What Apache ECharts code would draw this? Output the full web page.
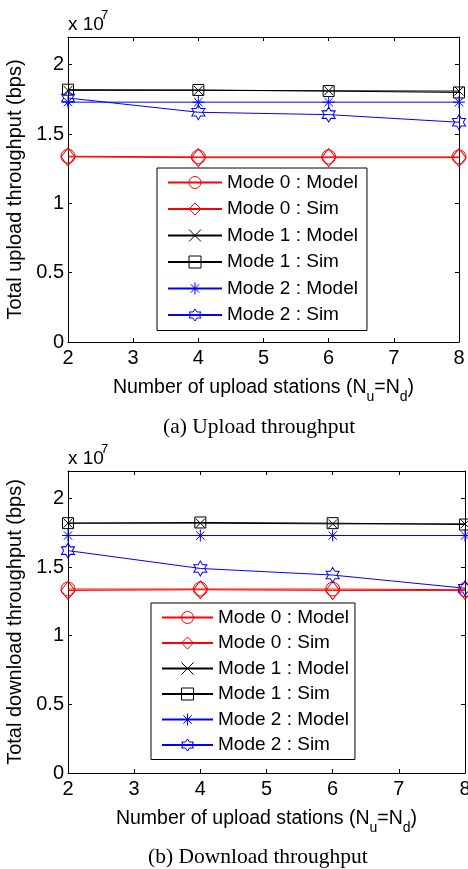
<!DOCTYPE html>
<html>
<head>
<meta charset="utf-8">
<title>Upload / download throughput</title>
<script src="https://cdn.jsdelivr.net/npm/echarts@6/dist/echarts.min.js"></script>
<style>
    html, body { margin: 0; padding: 0; background: #fff; }
    #chart { width: 468px; height: 869px; }
</style>
</head>
<body>
<div id="chart"></div>
<script>
// Data (values in bps)
// -----------------------------

var stations = [2, 4, 6, 8];
var yTicks = [0, 0.5e7, 1e7, 1.5e7, 2e7];

var names = ['Mode 0 : Model', 'Mode 0 : Sim', 'Mode 1 : Model', 'Mode 1 : Sim', 'Mode 2 : Model', 'Mode 2 : Sim'];

// (a) upload
var upM0Model = [1.340e7, 1.335e7, 1.335e7, 1.335e7];
var upM0Sim   = [1.335e7, 1.330e7, 1.330e7, 1.330e7];
var upM1Model = [1.815e7, 1.815e7, 1.812e7, 1.810e7];
var upM1Sim   = [1.820e7, 1.818e7, 1.810e7, 1.800e7];
var upM2Model = [1.730e7, 1.730e7, 1.730e7, 1.730e7];
var upM2Sim   = [1.760e7, 1.657e7, 1.640e7, 1.585e7];

// (b) download
var dnM0Model = [1.340e7, 1.340e7, 1.340e7, 1.335e7];
var dnM0Sim   = [1.330e7, 1.335e7, 1.330e7, 1.330e7];
var dnM1Model = [1.820e7, 1.820e7, 1.815e7, 1.815e7];
var dnM1Sim   = [1.820e7, 1.825e7, 1.820e7, 1.810e7];
var dnM2Model = [1.730e7, 1.730e7, 1.730e7, 1.730e7];
var dnM2Sim   = [1.620e7, 1.490e7, 1.442e7, 1.346e7];


// Marker look per series (matlab style)
// -----------------------------

var RED = '#ff0000', BLACK = '#000000', BLUE = '#0000ff';
var FONT = '"Liberation Sans", Arial, Helvetica, sans-serif';
var SERIF = '"Liberation Serif", "Times New Roman", serif';

var crossPath = 'path://M0,0L10,10M10,0L0,10';
var starPath = 'path://M5,0L5,10M0,5L10,5M1.5,1.5L8.5,8.5M8.5,1.5L1.5,8.5';
var hexagramPath = 'path://M10,0L12.89,5L18.66,5L15.77,10L18.66,15L12.89,15L10,20L7.11,15L1.34,15L4.23,10L1.34,5L7.11,5Z';

var styles = [
    { color: RED,   symbol: 'circle',     size: 14 },
    { color: RED,   symbol: 'diamond',    size: [14, 18] },
    { color: BLACK, symbol: crossPath,    size: 9 },
    { color: BLACK, symbol: 'rect',       size: 11 },
    { color: BLUE,  symbol: starPath,     size: 12 },
    { color: BLUE,  symbol: hexagramPath, size: [13, 15] }
];

var makeSeries = function(idx, values, axisIndex) {
    var st = styles[idx];
    return {
        name: names[idx],
        type: 'line',
        xAxisIndex: axisIndex,
        yAxisIndex: axisIndex,
        data: stations.map(function(x, i) { return [x, values[i]]; }),
        symbol: st.symbol,
        symbolSize: st.size,
        showAllSymbol: true,
        animation: false,
        lineStyle: { color: st.color, width: 1 },
        itemStyle: { color: 'transparent', borderColor: st.color, borderWidth: 1 },
        emphasis: { disabled: true }
    };
};

// Axes helpers
var xAxisFor = function(grid, pos, labels) {
    return {
        type: 'value',
        gridIndex: grid,
        position: pos,
        min: 2,
        max: 8,
        interval: 1,
        name: labels ? 'Number of upload stations (N{sub|u}=N{sub|d})' : '',
        nameLocation: 'middle',
        nameGap: 29,
        nameTextStyle: {
            color: '#000',
            fontFamily: FONT,
            fontSize: 19.5,
            rich: {
                sub: { fontSize: 14, fontFamily: FONT, color: '#000', verticalAlign: 'bottom', padding: [19, 0, 0, 0] }
            }
        },
        axisLine: { show: true, onZero: false, lineStyle: { color: '#000', width: 1 } },
        axisTick: { show: true, inside: true, length: 4, lineStyle: { color: '#000' } },
        axisLabel: { show: labels, color: '#000', fontFamily: FONT, fontSize: 20, margin: 6 },
        splitLine: { show: false }
    };
};

var yAxisFor = function(grid, pos, title) {
    return {
        type: 'value',
        gridIndex: grid,
        position: pos,
        min: 0,
        max: 2.2e7,
        interval: 0.5e7,
        name: title || '',
        nameLocation: 'middle',
        nameGap: 35,
        nameTextStyle: { color: '#000', fontFamily: FONT, fontSize: 20 },
        axisLine: { show: true, onZero: false, lineStyle: { color: '#000', width: 1 } },
        axisTick: { show: true, inside: true, length: 4, lineStyle: { color: '#000' } },
        axisLabel: {
            show: !!title,
            showMaxLabel: false,
            color: '#000',
            fontFamily: FONT,
            fontSize: 20,
            margin: 4,
            formatter: function(v) {
                return yTicks.indexOf(v) > -1 ? String(v / 1e7) : '';
            }
        },
        splitLine: { show: false }
    };
};

var legendFor = function(left, top, iw, gap, pad) {
    return {
        data: names,
        orient: 'vertical',
        left: left,
        top: top,
        itemWidth: iw,
        itemHeight: 15,
        itemGap: gap,
        padding: pad,
        backgroundColor: '#fff',
        borderColor: '#000',
        borderWidth: 1,
        borderRadius: 0,
        selectedMode: false,
        itemStyle: { borderWidth: 1 },
        textStyle: { color: '#000', fontFamily: FONT, fontSize: 19 }
    };
};

var chart = echarts.init(document.getElementById('chart'), null, { renderer: 'canvas' });

chart.setOption({
    animation: false,
    backgroundColor: '#fff',
    textStyle: { fontFamily: FONT },

    grid: [
        { left: 68, top: 37, width: 391, height: 305, outerBoundsMode: 'none', containLabel: false },
        { left: 68, top: 471, width: 397, height: 302, outerBoundsMode: 'none', containLabel: false }
    ],

    xAxis: [
        xAxisFor(0, 'bottom', true),
        xAxisFor(1, 'bottom', true),
        xAxisFor(0, 'top', false),
        xAxisFor(1, 'top', false)
    ],

    yAxis: [
        yAxisFor(0, 'left', 'Total upload throughput (bps)'),
        yAxisFor(1, 'left', 'Total download throughput (bps)'),
        yAxisFor(0, 'right', ''),
        yAxisFor(1, 'right', '')
    ],

    legend: [
        legendFor(157, 168, 54, 7.5, [5, 9, 6, 10]),
        legendFor(151, 603, 51, 6.5, [5, 6, 5, 10])
    ],

    // Scale exponent and captions
    graphic: [
        { type: 'text', left: 68, top: 15, style: { text: 'x 10', fill: '#000', font: '19px ' + FONT } },
        { type: 'text', left: 101, top: 9, style: { text: '7', fill: '#000', font: '13px ' + FONT } },
        { type: 'text', left: 68, top: 449, style: { text: 'x 10', fill: '#000', font: '19px ' + FONT } },
        { type: 'text', left: 101, top: 443, style: { text: '7', fill: '#000', font: '13px ' + FONT } },
        { type: 'text', left: 163, top: 416, style: { text: '(a) Upload throughput', fill: '#000', font: '21.5px ' + SERIF } },
        { type: 'text', left: 148, top: 846, style: { text: '(b) Download throughput', fill: '#000', font: '21.5px ' + SERIF } }
    ],

    series: [
        makeSeries(0, upM0Model, 0),
        makeSeries(1, upM0Sim, 0),
        makeSeries(2, upM1Model, 0),
        makeSeries(3, upM1Sim, 0),
        makeSeries(4, upM2Model, 0),
        makeSeries(5, upM2Sim, 0),
        makeSeries(0, dnM0Model, 1),
        makeSeries(1, dnM0Sim, 1),
        makeSeries(2, dnM1Model, 1),
        makeSeries(3, dnM1Sim, 1),
        makeSeries(4, dnM2Model, 1),
        makeSeries(5, dnM2Sim, 1)
    ]
});
</script>
</body>
</html>
